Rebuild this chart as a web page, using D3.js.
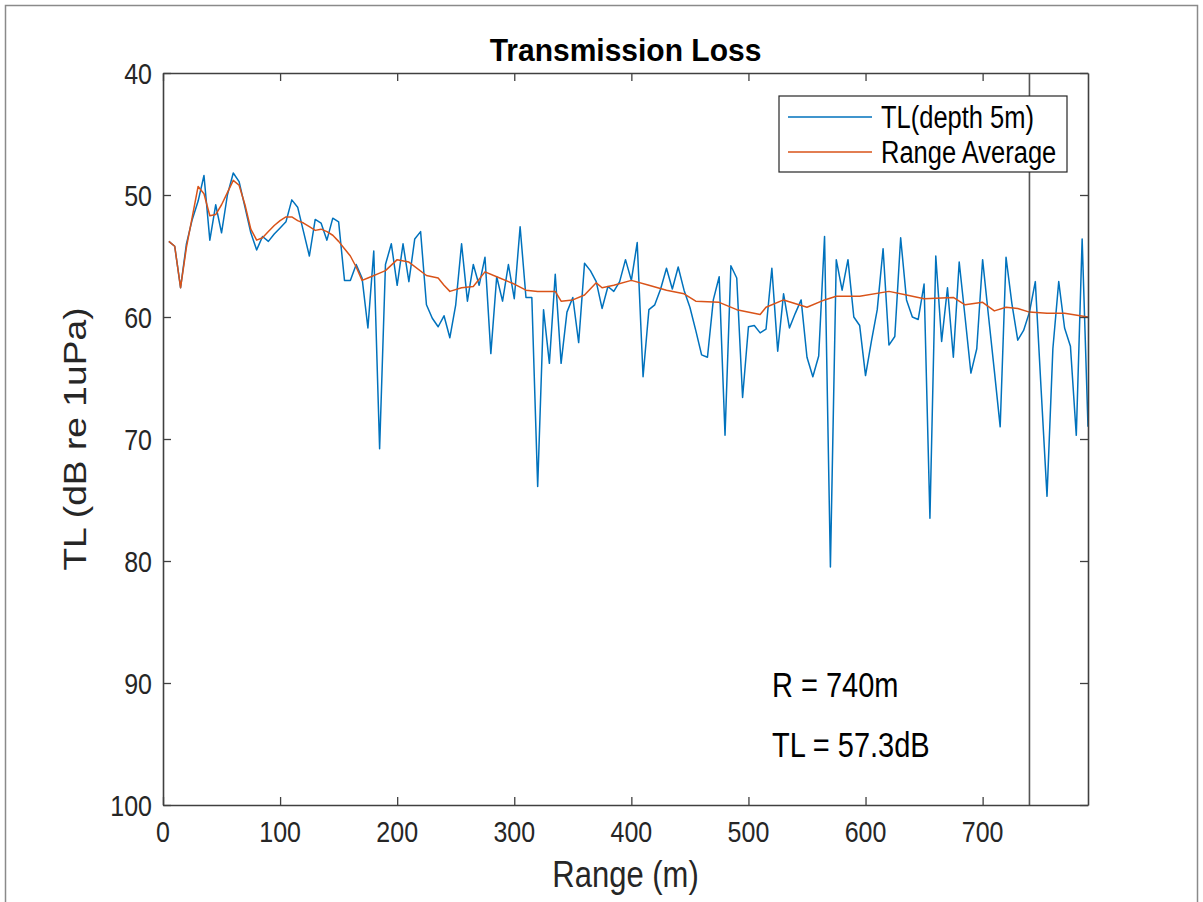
<!DOCTYPE html>
<html><head><meta charset="utf-8">
<script src="https://cdn.jsdelivr.net/npm/d3@7"></script>
<style>body{margin:0;background:#fff;} text{font-family:"Liberation Sans",Arial,sans-serif;}</style>
</head><body><svg id="c" width="1203" height="902"></svg>
<script>
const tlRange = [5,10,15,20,25,30,35,40,45,50,55,60,65,70,75,80,85,90,95,100,105,110,115,120,125,130,135,140,145,150,155,160,165,170,175,180,185,190,195,200,205,210,215,220,225,230,235,240,245,250,255,260,265,270,275,280,285,290,295,300,305,310,315,320,325,330,335,340,345,350,355,360,365,370,375,380,385,390,395,400,405,410,415,420,425,430,435,440,445,450,455,460,465,470,475,480,485,490,495,500,505,510,515,520,525,530,535,540,545,550,555,560,565,570,575,580,585,590,595,600,605,610,615,620,625,630,635,640,645,650,655,660,665,670,675,680,685,690,695,700,705,710,715,720,725,730,735,740,745,750,755,760,765,770,775,780,785,790];
const tlValues = [53.8,54.2,57.6,54.0,52.0,50.5,48.4,53.7,50.8,53.1,50.0,48.2,48.9,51.0,53.1,54.5,53.4,53.8,53.2,52.7,52.2,50.4,51.0,53.0,55.0,52.0,52.3,53.7,51.9,52.2,57.0,57.0,55.7,56.8,60.9,54.6,70.8,55.7,54.0,57.4,54.0,57.1,53.6,53.0,59.0,60.1,60.8,59.9,61.7,59.0,54.0,58.7,55.7,57.4,55.1,63.0,56.7,58.7,55.7,58.5,52.6,58.4,58.4,73.9,59.4,63.8,56.5,63.8,59.6,58.4,62.1,55.6,56.2,57.1,59.3,57.5,57.9,57.1,55.3,57.0,53.9,64.9,59.4,59.0,57.7,56.0,57.7,55.9,57.8,59.2,61.1,63.1,63.3,58.6,56.7,69.7,55.8,56.8,66.6,60.8,60.7,61.3,61.0,56.0,62.8,58.1,60.9,59.7,58.6,63.3,64.9,63.2,53.4,80.5,55.3,57.8,55.3,60.0,60.7,64.8,62.0,59.4,54.4,62.3,61.6,53.5,58.6,60.0,60.2,57.3,76.5,55.0,62.0,57.6,63.3,55.5,60.0,64.6,62.6,55.3,59.9,64.4,69.0,55.1,58.9,61.9,61.1,59.6,57.1,66.0,74.7,62.6,57.1,60.9,62.4,69.7,53.6,69.0];
const avgRange = [5,10,15,20,25,30,35,40,45,50,55,60,65,70,75,80,85,90,95,100,105,110,115,120,125,130,135,140,145,150,155,160,165,170,175,185,190,200,210,225,235,240,245,255,265,275,285,300,310,320,335,340,350,360,370,375,385,400,415,430,445,455,475,490,510,515,530,550,565,575,595,620,635,650,675,685,700,710,720,730,740,755,770,790];
const avgValues = [53.8,54.2,57.6,54.3,51.8,49.3,49.9,51.7,51.6,50.8,49.8,48.8,49.2,50.8,52.8,53.7,53.5,53.0,52.5,52.1,51.8,51.8,52.1,52.3,52.6,52.9,52.8,53.0,53.3,53.8,54.4,55.0,55.9,57.0,56.8,56.4,56.2,55.3,55.5,56.6,56.8,57.4,57.9,57.6,57.5,56.3,56.7,57.3,57.8,57.9,57.9,58.7,58.6,58.2,57.2,57.6,57.4,57.0,57.4,57.8,58.1,58.7,58.8,59.4,59.8,59.2,58.6,59.2,58.6,58.3,58.3,57.9,58.2,58.5,58.4,59.0,58.8,59.5,59.2,59.3,59.6,59.7,59.7,60.0];
const xTicks = [0,100,200,300,400,500,600,700];
const yTicks = [40,50,60,70,80,90,100];
const markerRange = 740;
const annoLines = ["R = 740m", "TL = 57.3dB"];
const legendLabels = ["TL(depth 5m)", "Range Average"];
const colors = ["#0072BD", "#D95319"];

const svg = d3.select("#c");
svg.append("rect").attr("x",5.5).attr("y",5.5).attr("width",1192).attr("height",930)
  .attr("fill","none").attr("stroke","#8a8a8a").attr("stroke-width",1.5);

const L=163, R=1088, T=73, B=805;
const SY = 1.2; // vertical stretch of glyphs in the reference
const x = d3.scaleLinear().domain([0,790]).range([L,R]);
const y = d3.scaleLinear().domain([40,100]).range([T,B]);
const axCol = "#404040";
const g = svg.append("g");

function stext(px, py, str, size, opts={}) {
  const t = svg.append("text")
    .attr("transform", `translate(${px},${py}) ${opts.rotate?`rotate(${opts.rotate}) scale(${opts.sx||1},1)`:`scale(1,${opts.sy||SY})`}`)
    .attr("text-anchor", opts.anchor||"start")
    .style("font-size", size+"px")
    .attr("fill", opts.fill||"#262626")
    .text(str);
  if (opts.bold) t.style("font-weight","bold");
  return t;
}

svg.append("clipPath").attr("id","clip").append("rect").attr("x",L).attr("y",T).attr("width",R-L).attr("height",B-T);
const line = d3.line().x(d=>x(d[0])).y(d=>y(d[1]));
g.append("path").attr("clip-path","url(#clip)").datum(tlRange.map((r,i)=>[r,tlValues[i]]))
  .attr("d",line).attr("fill","none").attr("stroke",colors[0]).attr("stroke-width",1.5).attr("stroke-linejoin","round");
g.append("path").attr("clip-path","url(#clip)").datum(avgRange.map((r,i)=>[r,avgValues[i]]))
  .attr("d",line).attr("fill","none").attr("stroke",colors[1]).attr("stroke-width",1.5).attr("stroke-linejoin","round");

g.append("line").attr("x1",x(markerRange)).attr("x2",x(markerRange)).attr("y1",T).attr("y2",B)
  .attr("stroke","#555").attr("stroke-width",1.6);

const tickLen = 8;
const axB = g.append("g").attr("transform",`translate(0,${B})`).call(d3.axisBottom(x).tickValues(xTicks).tickSizeInner(-tickLen).tickSizeOuter(0).tickFormat(""));
const axT = g.append("g").attr("transform",`translate(0,${T})`).call(d3.axisTop(x).tickValues(xTicks).tickSizeInner(-tickLen).tickSizeOuter(0).tickFormat(""));
const axL = g.append("g").attr("transform",`translate(${L},0)`).call(d3.axisLeft(y).tickValues(yTicks).tickSizeInner(-tickLen).tickSizeOuter(0).tickFormat(""));
const axR = g.append("g").attr("transform",`translate(${R},0)`).call(d3.axisRight(y).tickValues(yTicks).tickSizeInner(-tickLen).tickSizeOuter(0).tickFormat(""));
[axB,axT,axL,axR].forEach(a=>{
  a.select(".domain").attr("stroke",axCol).attr("stroke-width",1.6);
  a.selectAll(".tick line").attr("stroke",axCol).attr("stroke-width",1.3);
});

xTicks.forEach(v=>stext(x(v), 842, String(v), 25, {anchor:"middle"}));
yTicks.forEach(v=>stext(L-11, y(v)+10.5, String(v), 25, {anchor:"end"}));

stext((L+R)/2, 61, "Transmission Loss", 30, {anchor:"middle", bold:true, fill:"#000", sy:1.05});
stext((L+R)/2, 887, "Range (m)", 31, {anchor:"middle"});
stext(86, (T+B)/2, "TL (dB re 1uPa)", 31, {anchor:"middle", rotate:-90, sx:SY});

stext(772, 697, annoLines[0], 29, {fill:"#000"});
stext(772, 757, annoLines[1], 29, {fill:"#000"});

const lg = svg.append("g");
lg.append("rect").attr("x",779).attr("y",96).attr("width",288).attr("height",76).attr("fill","#fff").attr("stroke","#262626").attr("stroke-width",1.2);
legendLabels.forEach((lab,i)=>{
  const yy = 117 + i*35;
  lg.append("line").attr("x1",788).attr("x2",872).attr("y1",yy).attr("y2",yy).attr("stroke",colors[i]).attr("stroke-width",1.5);
  stext(881, yy+10.5, lab, 25.5, {fill:"#000"});
});
</script></body></html>
